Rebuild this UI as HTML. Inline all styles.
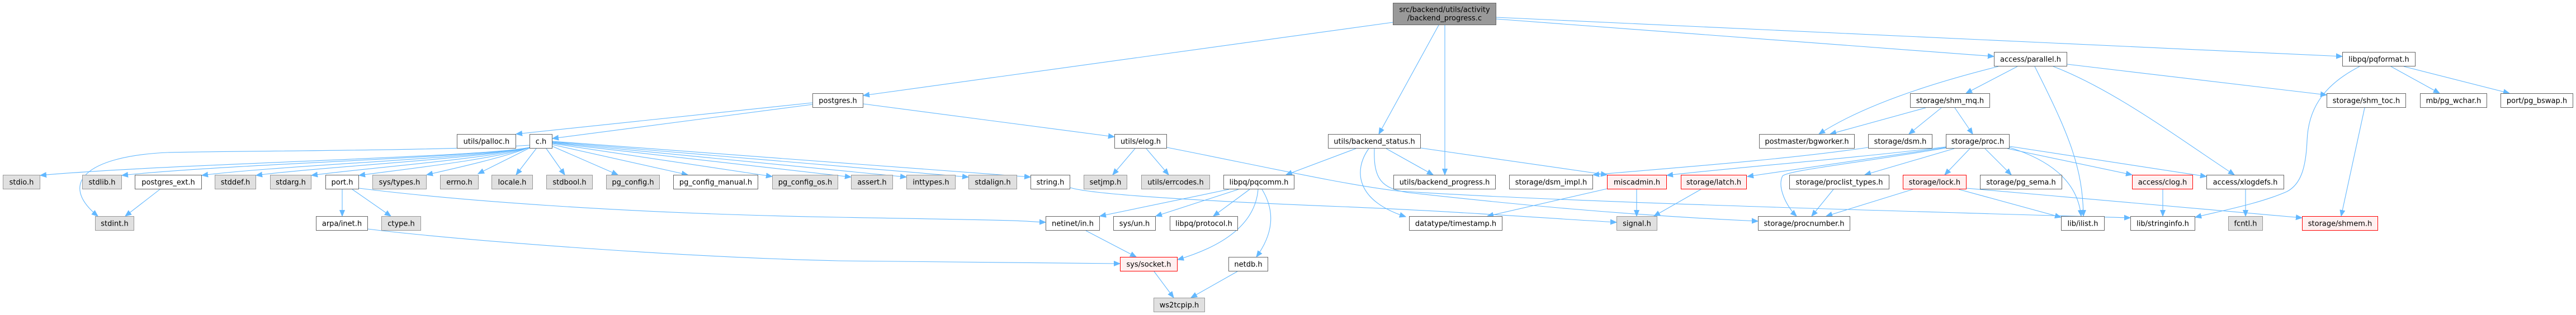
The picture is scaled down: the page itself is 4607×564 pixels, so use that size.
<!DOCTYPE html>
<html>
<head>
<meta charset="utf-8">
<style>
html,body{margin:0;padding:0;background:#fff;}
svg{display:block;}
.e{fill:none;stroke:#63b8ff;stroke-width:1.1;marker-end:url(#a);}
rect.w{fill:#ffffff;stroke:#666666;stroke-width:1;}
rect.g{fill:#e0e0e0;stroke:#999999;stroke-width:1;}
rect.r{fill:#fff0f0;stroke:#ff0000;stroke-width:1;}
rect.root{fill:#999999;stroke:#666666;stroke-width:1;}
text{font-family:"DejaVu Sans","Liberation Sans",sans-serif;font-size:13px;text-anchor:middle;fill:#000;}
</style>
</head>
<body>
<svg width="4607" height="564" viewBox="0 0 4607 564" xmlns="http://www.w3.org/2000/svg">
<defs>
<marker id="a" markerWidth="12" markerHeight="10" refX="11" refY="5" orient="auto" markerUnits="userSpaceOnUse">
<path d="M0,0.5 L11,5 L0,9.5 z" fill="#63b8ff" stroke="#63b8ff" stroke-width="1"/>
</marker>
</defs>

<!-- ===== EDGES ===== -->
<!-- root -->
<path class="e" d="M2491,40 L1544,171"/>
<path class="e" d="M2573,45 L2466,240"/>
<path class="e" d="M2584,45 L2584,313"/>
<path class="e" d="M2676,34 L3566,101"/>
<path class="e" d="M2676,31 L4189,101"/>

<!-- postgres.h -->
<path class="e" d="M1453,184 L923,240"/>
<path class="e" d="M1453,187 L988,248"/>
<path class="e" d="M1544,186 L1993,245"/>

<!-- c.h left fan -->
<path class="e" d="M947,260 C800,270 420,270 300,273 C150,280 105,330 175,387"/>
<path class="e" d="M947,264 C860,282 300,293 72,314"/>
<path class="e" d="M947,264 C860,282 400,294 218,314"/>
<path class="e" d="M947,264 C860,283 500,296 361,314"/>
<path class="e" d="M947,264 C860,284 580,298 458,314"/>
<path class="e" d="M947,264 C870,285 660,300 557,314"/>
<path class="e" d="M947,264 C880,286 730,302 642,314"/>
<path class="e" d="M947,264 C900,282 820,300 763,313"/>
<path class="e" d="M947,265 L855,311"/>
<!-- c.h right fan -->
<path class="e" d="M959,266 L923,313"/>
<path class="e" d="M977,266 L1010,313"/>
<path class="e" d="M988,262 L1105,313"/>
<path class="e" d="M988,259 L1230,313"/>
<path class="e" d="M988,257 L1381,316"/>
<path class="e" d="M988,256 L1522,317"/>
<path class="e" d="M988,255 L1621,317"/>
<path class="e" d="M988,254 L1732,317"/>
<path class="e" d="M988,253 L1843,317"/>

<!-- postgres_ext / port / arpa -->
<path class="e" d="M286,339 L224,387"/>
<path class="e" d="M612,339 L612,387"/>
<path class="e" d="M630,339 L699,387"/>
<path class="e" d="M642,337 C800,357 1100,382 1500,389 S1800,395 1870,398"/>
<path class="e" d="M658,410 C800,428 1200,460 1500,467 L2003,472"/>

<!-- network -->
<path class="e" d="M1942,413 L2032,460"/>
<path class="e" d="M2198,339 L1967,387"/>
<path class="e" d="M2215,339 L2067,387"/>
<path class="e" d="M2235,339 L2170,387"/>
<path class="e" d="M2250,339 C2245,400 2190,440 2106,465"/>
<path class="e" d="M2257,339 C2282,380 2276,420 2247,460"/>
<path class="e" d="M2064,486 L2099,533"/>
<path class="e" d="M2213,486 L2130,533"/>

<!-- elog -->
<path class="e" d="M2030,266 L1990,313"/>
<path class="e" d="M2050,266 L2090,313"/>
<path class="e" d="M2087,264 C2250,296 2400,330 2500,342 C2800,362 3400,378 3810,390"/>

<!-- string.h -> signal.h -->
<path class="e" d="M1914,336 C1960,350 2200,362 2400,370 S2800,393 2891,398"/>

<!-- backend_status -->
<path class="e" d="M2425,266 L2300,313"/>
<path class="e" d="M2448,266 C2420,305 2425,360 2514,388"/>
<path class="e" d="M2479,266 L2563,313"/>
<path class="e" d="M2541,265 L2874,313"/>
<path class="e" d="M2458,266 C2456,320 2470,338 2520,345 C2700,365 2900,385 3144,396"/>

<!-- miscadmin / latch -->
<path class="e" d="M2927,339 L2927,387"/>
<path class="e" d="M2874,338 L2660,387"/>
<path class="e" d="M3042,339 L2958,387"/>

<!-- access/parallel.h -->
<path class="e" d="M3574,119 C3450,150 3330,190 3253,240"/>
<path class="e" d="M3608,119 L3516,167"/>
<path class="e" d="M3639,119 C3700,240 3725,300 3726,387"/>
<path class="e" d="M3672,119 C3780,160 3900,250 3996,313"/>
<path class="e" d="M3697,115 L4161,170"/>

<!-- shm_mq -->
<path class="e" d="M3444,193 L3273,240"/>
<path class="e" d="M3472,193 L3414,240"/>
<path class="e" d="M3496,193 L3528,240"/>

<!-- dsm -->
<path class="e" d="M3341,264 C3200,285 3000,300 2849,313"/>

<!-- proc.h -->
<path class="e" d="M3480,263 C3300,285 3100,300 2981,314"/>
<path class="e" d="M3480,264 L3125,316"/>
<path class="e" d="M3480,265 C3300,295 3200,305 3188,315 C3178,335 3195,370 3213,387"/>
<path class="e" d="M3495,266 L3335,313"/>
<path class="e" d="M3523,266 L3478,313"/>
<path class="e" d="M3550,266 L3597,313"/>
<path class="e" d="M3594,264 C3660,285 3715,320 3722,387"/>
<path class="e" d="M3590,266 L3813,313"/>
<path class="e" d="M3594,262 L3946,316"/>

<!-- proclist / lock / clog / xlogdefs -->
<path class="e" d="M3279,339 L3240,387"/>
<path class="e" d="M3421,339 L3266,387"/>
<path class="e" d="M3503,339 L3686,389"/>
<path class="e" d="M3517,337 L4117,390"/>
<path class="e" d="M3868,339 L3868,387"/>
<path class="e" d="M4016,339 L4016,387"/>

<!-- pqformat / shm_toc -->
<path class="e" d="M4220,119 C4150,155 4128,200 4126,252 C4124,300 4115,330 4090,343 C4040,365 3970,378 3926,389"/>
<path class="e" d="M4276,119 L4363,167"/>
<path class="e" d="M4299,119 L4488,167"/>
<path class="e" d="M4229,193 L4187,387"/>

<!-- ===== NODES ===== -->
<!-- root -->
<rect class="root" x="2491.5" y="5.5" width="184" height="39"/>
<text x="2583.5" y="21.5">src/backend/utils/activity</text>
<text x="2583.5" y="36.5">/backend_progress.c</text>

<!-- rank 1 -->
<rect class="w" x="3566.5" y="93.5" width="130" height="25"/><text x="3631.5" y="110.5">access/parallel.h</text>
<rect class="w" x="4189.5" y="93.5" width="130" height="25"/><text x="4254.5" y="110.5">libpq/pqformat.h</text>

<!-- rank 2 -->
<rect class="w" x="1453.5" y="167.5" width="90" height="25"/><text x="1498.5" y="184.5">postgres.h</text>
<rect class="w" x="3416.5" y="167.5" width="142" height="25"/><text x="3487.5" y="184.5">storage/shm_mq.h</text>
<rect class="w" x="4161.5" y="167.5" width="141" height="25"/><text x="4232" y="184.5">storage/shm_toc.h</text>
<rect class="w" x="4328.5" y="167.5" width="119" height="25"/><text x="4388" y="184.5">mb/pg_wchar.h</text>
<rect class="w" x="4472.5" y="167.5" width="129" height="25"/><text x="4537" y="184.5">port/pg_bswap.h</text>

<!-- rank 3 -->
<rect class="w" x="817.5" y="240.5" width="105" height="25"/><text x="870" y="257.5">utils/palloc.h</text>
<rect class="w" x="947.5" y="240.5" width="40" height="25"/><text x="967.5" y="257.5">c.h</text>
<rect class="w" x="1993.5" y="240.5" width="93" height="25"/><text x="2040" y="257.5">utils/elog.h</text>
<rect class="w" x="2375.5" y="240.5" width="165" height="25"/><text x="2458" y="257.5">utils/backend_status.h</text>
<rect class="w" x="3146.5" y="240.5" width="170" height="25"/><text x="3231.5" y="257.5">postmaster/bgworker.h</text>
<rect class="w" x="3341.5" y="240.5" width="114" height="25"/><text x="3398.5" y="257.5">storage/dsm.h</text>
<rect class="w" x="3480.5" y="240.5" width="113" height="25"/><text x="3537" y="257.5">storage/proc.h</text>

<!-- rank 4 -->
<rect class="g" x="5.5" y="313.5" width="66" height="25"/><text x="38.5" y="330.5">stdio.h</text>
<rect class="g" x="147.5" y="313.5" width="70" height="25"/><text x="182.5" y="330.5">stdlib.h</text>
<rect class="w" x="241.5" y="313.5" width="119" height="25"/><text x="301" y="330.5">postgres_ext.h</text>
<rect class="g" x="384.5" y="313.5" width="73" height="25"/><text x="421" y="330.5">stddef.h</text>
<rect class="g" x="483.5" y="313.5" width="73" height="25"/><text x="520" y="330.5">stdarg.h</text>
<rect class="w" x="582.5" y="313.5" width="59" height="25"/><text x="612" y="330.5">port.h</text>
<rect class="g" x="666.5" y="313.5" width="96" height="25"/><text x="714.5" y="330.5">sys/types.h</text>
<rect class="g" x="787.5" y="313.5" width="68" height="25"/><text x="821.5" y="330.5">errno.h</text>
<rect class="g" x="879.5" y="313.5" width="73" height="25"/><text x="916" y="330.5">locale.h</text>
<rect class="g" x="977.5" y="313.5" width="82" height="25"/><text x="1018.5" y="330.5">stdbool.h</text>
<rect class="g" x="1084.5" y="313.5" width="95" height="25"/><text x="1132" y="330.5">pg_config.h</text>
<rect class="w" x="1204.5" y="313.5" width="151" height="25"/><text x="1280" y="330.5">pg_config_manual.h</text>
<rect class="g" x="1381.5" y="313.5" width="117" height="25"/><text x="1440" y="330.5">pg_config_os.h</text>
<rect class="g" x="1522.5" y="313.5" width="74" height="25"/><text x="1559.5" y="330.5">assert.h</text>
<rect class="g" x="1621.5" y="313.5" width="87" height="25"/><text x="1665" y="330.5">inttypes.h</text>
<rect class="g" x="1732.5" y="313.5" width="86" height="25"/><text x="1775.5" y="330.5">stdalign.h</text>
<rect class="w" x="1843.5" y="313.5" width="70" height="25"/><text x="1878.5" y="330.5">string.h</text>
<rect class="g" x="1938.5" y="313.5" width="77" height="25"/><text x="1977" y="330.5">setjmp.h</text>
<rect class="g" x="2041.5" y="313.5" width="122" height="25"/><text x="2102.5" y="330.5">utils/errcodes.h</text>
<rect class="w" x="2188.5" y="313.5" width="126" height="25"/><text x="2251.5" y="330.5">libpq/pqcomm.h</text>
<rect class="w" x="2492.5" y="313.5" width="182" height="25"/><text x="2583.5" y="330.5">utils/backend_progress.h</text>
<rect class="w" x="2699.5" y="313.5" width="149" height="25"/><text x="2774" y="330.5">storage/dsm_impl.h</text>
<rect class="r" x="2874.5" y="313.5" width="106" height="25"/><text x="2927.5" y="330.5">miscadmin.h</text>
<rect class="r" x="3006.5" y="313.5" width="117" height="25"/><text x="3065" y="330.5">storage/latch.h</text>
<rect class="w" x="3200.5" y="313.5" width="178" height="25"/><text x="3289.5" y="330.5">storage/proclist_types.h</text>
<rect class="r" x="3403.5" y="313.5" width="113" height="25"/><text x="3460" y="330.5">storage/lock.h</text>
<rect class="w" x="3541.5" y="313.5" width="146" height="25"/><text x="3614.5" y="330.5">storage/pg_sema.h</text>
<rect class="r" x="3813.5" y="313.5" width="108" height="25"/><text x="3867.5" y="330.5">access/clog.h</text>
<rect class="w" x="3946.5" y="313.5" width="138" height="25"/><text x="4015.5" y="330.5">access/xlogdefs.h</text>

<!-- rank 5 -->
<rect class="g" x="170.5" y="387.5" width="69" height="25"/><text x="205" y="404.5">stdint.h</text>
<rect class="w" x="565.5" y="387.5" width="92" height="25"/><text x="611.5" y="404.5">arpa/inet.h</text>
<rect class="g" x="682.5" y="387.5" width="70" height="25"/><text x="717.5" y="404.5">ctype.h</text>
<rect class="w" x="1870.5" y="387.5" width="96" height="25"/><text x="1918.5" y="404.5">netinet/in.h</text>
<rect class="w" x="1991.5" y="387.5" width="75" height="25"/><text x="2029" y="404.5">sys/un.h</text>
<rect class="w" x="2092.5" y="387.5" width="121" height="25"/><text x="2153" y="404.5">libpq/protocol.h</text>
<rect class="w" x="2520.5" y="387.5" width="166" height="25"/><text x="2603.5" y="404.5">datatype/timestamp.h</text>
<rect class="g" x="2891.5" y="387.5" width="72" height="25"/><text x="2927.5" y="404.5">signal.h</text>
<rect class="w" x="3144.5" y="387.5" width="164" height="25"/><text x="3226.5" y="404.5">storage/procnumber.h</text>
<rect class="w" x="3686.5" y="387.5" width="77" height="25"/><text x="3725" y="404.5">lib/ilist.h</text>
<rect class="w" x="3810.5" y="387.5" width="115" height="25"/><text x="3868" y="404.5">lib/stringinfo.h</text>
<rect class="g" x="3985.5" y="387.5" width="61" height="25"/><text x="4016" y="404.5">fcntl.h</text>
<rect class="r" x="4117.5" y="387.5" width="135" height="25"/><text x="4185" y="404.5">storage/shmem.h</text>

<!-- rank 6 -->
<rect class="r" x="2003.5" y="460.5" width="102" height="25"/><text x="2054.5" y="477.5">sys/socket.h</text>
<rect class="w" x="2197.5" y="460.5" width="70" height="25"/><text x="2232.5" y="477.5">netdb.h</text>

<!-- rank 7 -->
<rect class="g" x="2063.5" y="533.5" width="91" height="25"/><text x="2109" y="550.5">ws2tcpip.h</text>
</svg>
</body>
</html>
